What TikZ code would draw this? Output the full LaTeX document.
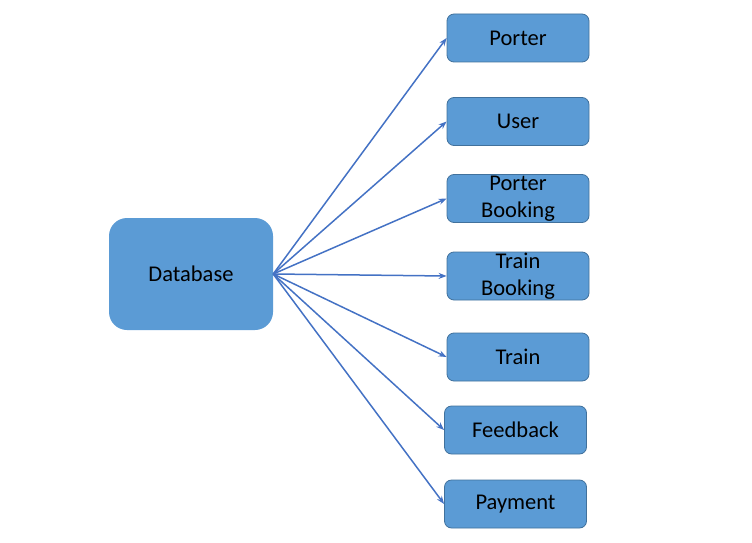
\documentclass[tikz,border=0pt]{standalone}
\usepackage{fontspec}
\setmainfont{Carlito}
\usetikzlibrary{arrows.meta}
\definecolor{boxfill}{HTML}{5B9BD5}
\definecolor{boxline}{HTML}{41719C}
\definecolor{arrowline}{HTML}{4472C4}
\tikzset{
  dbbox/.style={fill=boxfill, rounded corners=18pt, minimum width=164pt, minimum height=112pt, inner sep=0pt},
  tablebox/.style={fill=boxfill, draw=boxline, line width=0.8pt, rounded corners=7pt, minimum width=142pt, minimum height=48pt, inner sep=0pt, align=center},
  link/.style={draw=arrowline, line width=1.5pt, -{Stealth[length=8pt,width=6pt]}}
}
\begin{document}
\begin{tikzpicture}[x=1pt, y=-1pt, font=\fontsize{22.5}{27}\selectfont]
      \useasboundingbox (0, 0) rectangle (752, 543);
      \node (db) [dbbox] at (191, 274) {Database};
      \node (porter) [tablebox] at (518, 38) {Porter};
      \node (user) [tablebox] at (518, 121.5) {User};
      \node (pbooking) [tablebox] at (518, 198.5) {Porter\\Booking};
      \node (tbooking) [tablebox] at (518, 276) {Train\\Booking};
      \node (train) [tablebox] at (518, 357) {Train};
      \node (feedback) [tablebox] at (515.5, 430) {Feedback};
      \node (payment) [tablebox] at (515.5, 504) {Payment};
      \foreach \t in {porter, user, pbooking, tbooking, train, feedback, payment}
        \draw[link] (db.east) -- (\t.west);
\end{tikzpicture}
\end{document}
